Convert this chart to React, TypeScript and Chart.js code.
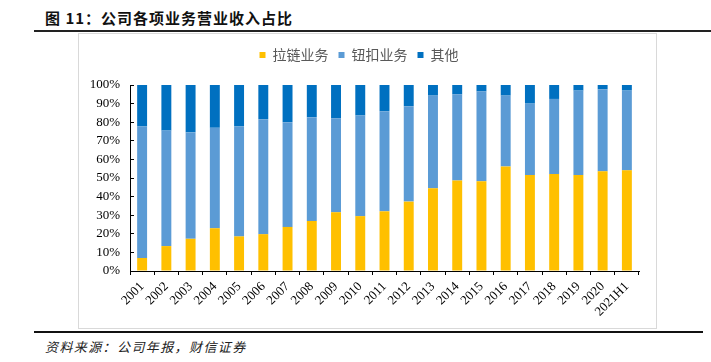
import React, { useEffect, useRef } from 'react';
import { Chart, registerables } from 'chart.js';

Chart.register(...registerables);

const categories = ['2001', '2002', '2003', '2004', '2005', '2006', '2007', '2008', '2009', '2010', '2011', '2012', '2013', '2014', '2015', '2016', '2017', '2018', '2019', '2020', '2021H1'];
const zipperShare = [7.0, 13.4, 17.3, 23.0, 18.6, 19.8, 23.7, 26.9, 31.6, 29.5, 32.1, 37.3, 44.5, 48.7, 48.2, 56.2, 51.6, 52.1, 51.6, 53.6, 54.1];
const buttonShare = [70.7, 62.1, 57.2, 54.0, 59.1, 61.8, 56.3, 55.8, 50.5, 54.1, 53.8, 51.3, 49.8, 46.3, 48.4, 38.1, 38.4, 40.4, 45.4, 44.1, 42.9];
const otherShare = [22.3, 24.5, 25.5, 23.0, 22.3, 18.4, 20.0, 17.3, 17.9, 16.4, 14.1, 11.4, 5.7, 5.0, 3.4, 5.7, 10.0, 7.5, 3.0, 2.3, 3.0];
const seriesNames = ['拉链业务', '钮扣业务', '其他'];
const seriesColors = ['#FFC000', '#5B9BD5', '#0070C0'];
const yMax = 100;
const yStep = 10;

const CANVAS_W = 577;
const CANVAS_H = 294;

export default function App() {
  const ref = useRef<HTMLCanvasElement | null>(null);

  useEffect(() => {
    if (!ref.current) return;
    const legendHeightPlugin = {
      id: 'legendHeight',
      beforeLayout(chart: any) {
        const lg = chart.legend;
        if (lg && !lg.__patched) {
          const orig = lg.fit;
          lg.fit = function () {
            orig.call(this);
            this.height = 47;
          };
          lg.__patched = true;
        }
      },
    };
    const chart = new Chart(ref.current, {
      type: 'bar',
      data: {
        labels: categories,
        datasets: [
          { label: seriesNames[0], data: zipperShare, backgroundColor: seriesColors[0] },
          { label: seriesNames[1], data: buttonShare, backgroundColor: seriesColors[1] },
          { label: seriesNames[2], data: otherShare, backgroundColor: seriesColors[2] },
        ],
      },
      options: {
        responsive: false,
        animation: false,
        devicePixelRatio: 1,
        layout: { padding: { top: 4, right: 17, left: 0, bottom: 0 } },
        datasets: { bar: { categoryPercentage: 1, barPercentage: 0.41, borderWidth: 0 } },
        plugins: {
          tooltip: { enabled: false },
          legend: {
            position: 'top',
            labels: {
              boxWidth: 6,
              boxHeight: 6,
              padding: 10,
              color: '#595959',
              font: { family: '"Noto Sans CJK SC"', size: 14 },
            },
          },
        },
        scales: {
          x: {
            stacked: true,
            grid: { display: true, drawOnChartArea: false, drawTicks: true, tickLength: 4, color: '#000', offset: true },
            border: { display: true, color: '#000', width: 1 },
            ticks: {
              color: '#000',
              maxRotation: 45,
              minRotation: 45,
              autoSkip: false,
              padding: 4,
              font: { family: '"Liberation Serif"', size: 13 },
            },
            afterFit(scale: any) {
              scale.height = 57;
            },
          },
          y: {
            stacked: true,
            min: 0,
            max: yMax,
            grid: { display: true, drawOnChartArea: false, drawTicks: true, tickLength: -4, color: '#000' },
            border: { display: true, color: '#000', width: 1 },
            ticks: {
              stepSize: yStep,
              color: '#000',
              padding: 14,
              font: { family: '"Liberation Serif"', size: 13 },
              callback: (v: any) => v + '%',
            },
            afterFit(scale: any) {
              scale.width = 51;
            },
          },
        },
      },
      plugins: [legendHeightPlugin],
    } as any);
    return () => chart.destroy();
  }, []);

  return (
    <div style={{ position: 'absolute', left: 0, top: 0, width: 711, height: 362, background: '#fff', overflow: 'hidden' }}>
      <div
        style={{
          position: 'absolute',
          left: 45,
          top: 8,
          fontFamily: '"Noto Sans CJK SC"',
          fontWeight: 700,
          fontSize: 15,
          letterSpacing: 1,
          lineHeight: '20px',
          color: '#111',
          whiteSpace: 'nowrap',
        }}
      >
        图 11：公司各项业务营业收入占比
      </div>
      <div style={{ position: 'absolute', left: 34, top: 30, width: 677, height: 2, background: '#222' }} />
      <div
        style={{
          position: 'absolute',
          left: 78,
          top: 33,
          width: 579,
          height: 296,
          boxSizing: 'border-box',
          border: '1px solid #d9d9d9',
        }}
      >
        <canvas ref={ref} width={CANVAS_W} height={CANVAS_H} style={{ position: 'absolute', left: 0, top: 0, width: CANVAS_W, height: CANVAS_H }} />
      </div>
      <div style={{ position: 'absolute', left: 34, top: 331, width: 669, height: 2, background: '#111' }} />
      <div
        style={{
          position: 'absolute',
          left: 45,
          top: 338,
          fontFamily: '"Noto Sans CJK SC"',
          fontStyle: 'italic',
          fontSize: 13,
          letterSpacing: 1.4,
          lineHeight: '18px',
          color: '#222',
          whiteSpace: 'nowrap',
        }}
      >
        资料来源：公司年报，财信证券
      </div>
    </div>
  );
}
